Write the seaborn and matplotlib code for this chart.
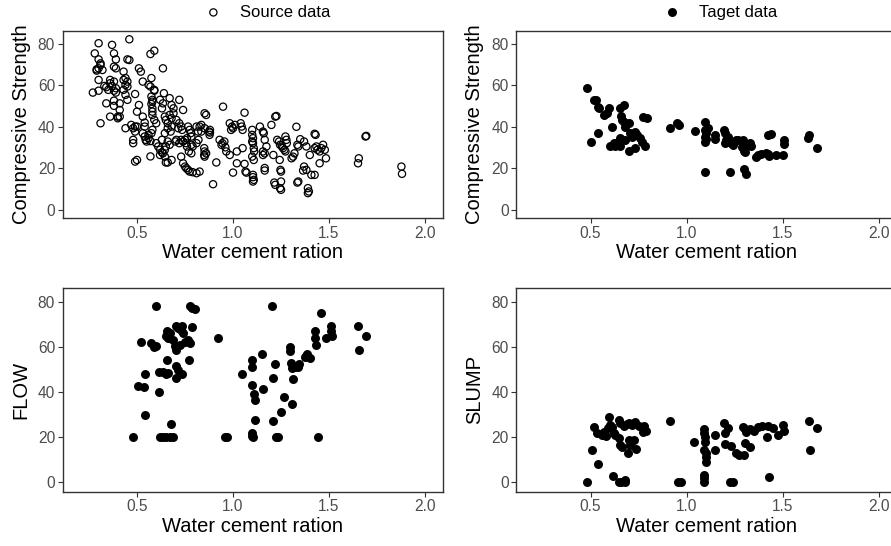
import matplotlib
matplotlib.use("Agg")
import matplotlib.pyplot as plt
import seaborn as sns
import pandas as pd

# ---------------- data ----------------
source_wc = [0.27,0.28,0.29,0.29,0.30,0.30,0.30,0.31,0.31,0.30,0.30,0.31,0.32,0.33,0.34,0.35,0.34,0.36,0.37,0.38,0.37,0.38,0.38,0.39,0.39,0.36,0.38,0.36,0.38,0.38,0.39,0.39,0.40,0.41,0.40,0.41,0.41,0.43,0.43,0.43,0.44,0.44,0.45,0.44,0.45,0.45,0.46,0.44,
             0.46,0.45,0.49,0.47,0.48,0.49,0.49,0.50,0.48,0.48,0.49,0.50,0.51,0.52,0.51,0.50,0.53,0.53,0.54,0.54,0.53,0.54,0.545,0.55,0.56,0.56,0.57,0.575,0.58,0.56,0.57,0.57,0.59,0.575,0.575,0.58,0.58,0.575,0.58,0.58,0.59,0.59,0.57,0.58,0.59,0.60,0.60,0.61,0.62,0.63,0.62,0.635,0.64,0.62,0.635,0.63,0.645,0.65,0.66,0.645,0.66,0.67,0.65,0.645,0.635,0.645,0.65,0.66,0.68,0.63,0.67,0.68,0.69,0.69,0.68,0.67,0.68,0.66,0.675,
             0.72,0.74,0.705,0.72,0.715,0.73,0.735,0.70,0.705,0.72,0.73,0.74,0.75,0.755,0.76,0.76,0.73,0.74,0.75,0.757,0.766,0.774,0.79,0.81,0.826,0.766,0.774,0.78,0.783,0.783,0.79,0.77,0.783,0.81,0.818,0.826,0.835,0.82,0.81,0.835,0.852,0.875,0.88,0.85,0.852,0.85,0.86,0.852,0.852,0.86,0.878,0.88,0.913,0.896,
             0.948,0.93,0.94,0.945,0.955,0.96,0.965,0.983,0.99,0.995,1.01,1.00,0.983,1.00,1.02,1.02,1.04,1.05,1.045,1.06,1.05,1.06,1.065,1.07,1.10,1.10,1.104,1.10,1.104,1.108,1.11,1.10,1.108,1.104,1.104,1.108,1.104,1.14,1.156,1.16,1.165,1.156,1.165,1.156,1.165,1.165,1.174,
             1.20,1.22,1.226,1.21,1.215,1.22,1.23,1.24,1.245,1.255,1.26,1.268,1.273,1.243,1.247,1.25,1.25,1.245,1.25,1.273,1.278,1.28,1.305,1.313,1.32,1.33,1.335,1.34,1.335,1.34,1.35,1.37,1.382,1.37,1.365,1.382,1.39,1.395,1.39,1.408,1.425,1.40,1.425,1.434,1.44,1.451,1.425,1.43,1.451,1.46,1.469,1.478,1.484,
             1.651,1.655,1.69,1.694,1.877,1.88]
source_cs = [56.4,75.3,67.6,67.0,68.1,80.2,72.4,69.7,70.5,62.5,57.3,41.6,67.3,59.6,59.0,57.7,51.2,60.9,59.6,57.3,79.4,75.3,68.9,68.1,72.4,62.5,61.7,44.8,52.5,50.0,58.5,56.4,44.8,44.8,44.0,48.0,51.2,57.7,66.5,62.5,63.4,60.1,59.3,55.3,52.9,72.4,72.1,39.2,
             82.1,61.7,55.7,40.8,39.2,40.0,37.6,40.0,33.6,32.0,23.1,23.9,68.1,66.5,50.4,47.2,61.7,44.8,41.9,40.0,36.8,35.2,33.6,32.8,36.0,34.4,33.0,36.8,38.4,60.1,59.3,75.0,76.6,63.4,54.5,52.9,52.0,50.9,48.8,47.2,57.7,57.3,25.6,45.6,43.2,41.6,32.0,30.4,28.8,27.6,26.3,68.1,56.1,52.9,51.2,48.8,44.8,43.2,41.6,36.8,32.8,31.2,30.4,28.8,27.1,25.5,22.7,22.7,23.9,33.6,53.7,50.4,48.8,46.4,44.0,45.6,40.0,39.2,37.6,
             52.9,48.0,43.2,41.6,39.2,40.0,38.4,32.8,33.6,32.0,33.6,32.8,33.6,32.0,34.4,30.4,25.5,22.3,20.7,19.9,19.1,18.3,18.0,17.5,18.3,40.0,38.4,36.8,35.2,31.2,30.4,28.0,27.1,40.0,37.6,40.0,37.6,33.6,32.0,40.8,39.2,37.6,38.4,29.6,28.0,26.3,27.1,25.5,46.4,45.6,36.0,37.1,22.7,12.2,
             49.6,33.6,31.2,32.0,32.8,30.0,28.0,41.6,38.4,40.0,40.8,39.2,26.3,17.8,28.0,22.3,41.6,38.4,40.0,46.7,29.6,22.0,18.3,17.8,38.4,36.0,34.4,32.8,32.0,29.6,28.0,25.5,23.9,16.7,15.6,14.3,13.5,40.0,37.6,36.8,33.6,28.0,27.1,26.3,20.0,18.8,30.4,
             40.8,44.8,45.1,26.3,13.0,11.9,33.6,32.8,31.2,30.4,29.6,28.8,28.0,23.9,19.1,18.3,13.5,10.3,9.5,35.2,33.6,32.0,24.7,25.5,27.1,39.9,31.2,30.4,13.0,13.5,33.9,32.8,30.4,20.7,18.8,19.1,10.3,8.7,7.9,16.7,16.7,26.3,29.6,30.4,28.8,28.0,36.5,36.0,22.3,29.6,31.2,28.8,24.7,
             22.3,24.7,35.2,35.5,20.7,17.2]

target_wc = [0.48,0.52,0.53,0.54,0.545,0.595,0.586,0.572,0.612,0.54,0.503,0.603,0.621,0.629,0.655,0.638,0.655,0.672,0.66,0.664,0.672,0.681,0.698,0.707,0.716,0.733,0.741,0.759,0.767,0.698,0.733,0.784,0.772,0.793,0.655,0.681,
             0.914,0.948,0.96,1.043,1.095,1.095,1.095,1.095,1.10,1.103,1.109,1.147,1.147,1.095,1.195,1.202,1.207,1.202,1.216,1.228,1.241,1.233,1.259,1.267,1.293,1.288,1.298,1.302,1.31,1.328,1.336,1.298,1.31,
             1.362,1.374,1.388,1.414,1.422,1.431,1.422,1.44,1.466,1.50,1.505,1.509,1.633,1.638,1.678]
target_cs = [58.8,53.0,53.0,49.6,49.0,48.8,46.4,45.6,40.0,36.8,32.8,30.4,32.0,30.4,30.4,32.0,49.0,50.4,45.1,43.2,42.4,40.0,41.6,36.8,35.2,37.6,36.0,34.4,32.8,28.0,29.6,30.4,44.6,44.0,34.4,33.6,
             39.2,41.6,40.8,37.9,42.4,38.4,35.2,32.8,34.0,37.1,39.2,36.0,33.9,18.2,38.4,36.8,33.6,32.0,35.2,18.2,30.9,32.0,33.6,33.3,33.6,30.0,28.4,27.6,31.2,32.0,30.4,19.4,17.2,
             25.5,26.3,26.8,27.1,26.8,25.9,35.9,36.3,26.5,26.5,33.6,31.6,34.4,36.0,29.6]

flow_wc = [0.479,0.597,0.774,0.788,0.800,0.656,0.653,0.661,0.670,0.705,0.714,0.731,0.740,0.736,0.688,0.696,0.705,0.722,0.748,0.766,0.774,0.788,0.523,0.575,0.587,0.601,0.505,0.535,0.543,0.615,0.615,0.635,0.653,0.661,0.656,0.705,0.714,0.736,0.701,0.769,0.542,0.675,0.618,0.635,0.653,0.670,0.688,
           0.922,0.957,0.970,1.049,1.101,1.099,1.099,1.108,1.113,1.116,1.101,1.101,1.104,1.153,1.156,1.205,1.208,1.219,1.208,1.222,1.234,1.248,1.266,1.295,1.299,1.306,1.304,1.309,1.313,1.321,1.339,1.344,1.373,1.385,1.399,1.382,1.425,1.425,1.431,1.460,1.483,1.512,1.512,1.517,1.443,1.651,1.656,1.691]
flow = [20.1,78.1,78.1,77.3,76.9,67.0,64.8,64.0,66.2,69.5,68.5,67.7,66.2,69.2,63.3,60.3,58.9,61.1,62.5,63.3,61.8,68.9,62.5,61.8,60.0,60.6,42.9,42.3,48.1,39.9,48.8,49.1,48.2,48.5,54.1,51.5,50.0,48.2,46.3,54.1,30.0,26.0,20.1,20.1,20.1,20.1,20.1,
        64.0,20.1,20.1,48.1,54.4,51.2,43.3,39.3,36.7,27.5,21.9,20.7,20.1,57.1,41.4,78.1,46.3,52.5,27.1,20.1,20.1,31.1,37.9,60.0,58.1,34.9,52.9,50.7,46.0,51.2,51.2,52.5,55.6,57.1,55.2,56.2,67.0,64.0,61.1,75.1,64.0,69.5,67.0,65.1,20.1,69.5,58.6,65.1]

slump_wc = [0.479,0.509,0.517,0.54,0.534,0.56,0.578,0.569,0.595,0.591,0.603,0.612,0.621,0.629,0.647,0.655,0.664,0.647,0.655,0.672,0.69,0.702,0.716,0.733,0.75,0.776,0.788,0.771,0.698,0.707,0.724,0.736,0.695,0.616,0.647,0.66,0.678,0.678,
            0.914,0.957,0.971,1.04,1.091,1.091,1.095,1.095,1.091,1.103,1.103,1.10,1.147,1.147,1.091,1.091,1.091,1.195,1.202,1.216,1.202,1.233,1.226,1.241,1.255,1.271,1.298,1.293,1.302,1.31,1.328,1.353,1.371,1.391,1.422,1.448,1.474,1.305,1.328,1.419,1.431,1.50,1.505,1.638,1.643,1.678]
slump = [0.0,14.4,24.7,8.0,21.8,21.0,20.6,22.5,29.2,24.0,25.5,24.7,22.1,21.0,19.6,16.6,15.9,27.7,26.5,25.0,25.9,26.5,25.5,27.0,25.0,25.0,23.0,22.5,18.8,16.6,18.8,14.7,12.9,2.8,0.0,0.0,1.0,0.0,
         27.4,0.0,0.0,18.0,23.6,21.8,20.0,18.1,14.4,13.2,9.2,11.4,21.0,14.4,3.3,1.8,0.0,26.5,21.8,24.0,17.0,16.1,0.0,0.0,13.2,12.1,12.1,24.4,23.6,22.5,23.6,23.0,24.7,25.0,25.0,24.0,21.0,17.6,15.9,20.0,2.2,25.5,23.0,27.4,14.4,24.0]

xlabel_text = "Water cement ration"
x_ticks = [0.5, 1.0, 1.5, 2.0]
y_ticks = [0, 20, 40, 60, 80]

# ---------------- style ----------------
sns.set_theme(style="white")
plt.rcParams['font.family'] = ['Liberation Sans', 'DejaVu Sans']
plt.rcParams['text.color'] = 'black'
plt.rcParams['axes.labelcolor'] = 'black'

W, H = 891, 546
fig = plt.figure(figsize=(W / 100, H / 100), dpi=100)

def px_axes(l, t, r, b):
    return fig.add_axes([l / W, 1 - b / H, (r - l) / W, (b - t) / H])

ax_src = px_axes(62.7, 31, 442.7, 218)
ax_tgt = px_axes(516.3, 31, 896.3, 218)
ax_flow = px_axes(62.7, 288.3, 442.7, 491.7)
ax_slump = px_axes(516.3, 288.3, 896.3, 491.7)

src_df = pd.DataFrame({"wc": source_wc, "cs": source_cs})
tgt_df = pd.DataFrame({"wc": target_wc, "cs": target_cs})
flow_df = pd.DataFrame({"wc": flow_wc, "flow": flow})
slump_df = pd.DataFrame({"wc": slump_wc, "slump": slump})

sns.scatterplot(data=src_df, x="wc", y="cs", ax=ax_src, marker="o", s=27,
                facecolor="none", edgecolor="black", linewidth=0.9, label="Source data")
sns.scatterplot(data=tgt_df, x="wc", y="cs", ax=ax_tgt, marker="o", s=42,
                color="black", linewidth=0, label="Taget data")
sns.scatterplot(data=flow_df, x="wc", y="flow", ax=ax_flow, marker="o", s=42,
                color="black", linewidth=0, legend=False)
sns.scatterplot(data=slump_df, x="wc", y="slump", ax=ax_slump, marker="o", s=42,
                color="black", linewidth=0, legend=False)

ylabels = {ax_src: "Compressive Strength", ax_tgt: "Compressive Strength",
           ax_flow: "FLOW", ax_slump: "SLUMP"}
for ax, yl in ylabels.items():
    ax.set_xlim(0.113, 2.092)
    ax.set_ylim(-4.1, 86.1)
    ax.set_xticks(x_ticks)
    ax.set_xticklabels([f"{v:.1f}" for v in x_ticks])
    ax.set_yticks(y_ticks)
    ax.set_xlabel(xlabel_text, fontsize=14.5, color="black", labelpad=2)
    ax.set_ylabel(yl, fontsize=14.5, color="black", labelpad=5)
    ax.tick_params(axis="both", which="both", direction="out", length=3.5, width=0.8,
                   color="#333333", labelcolor="#4D4D4D", labelsize=11.2, pad=2,
                   bottom=True, left=True)
    for sp in ax.spines.values():
        sp.set_visible(True)
        sp.set_color("#333333")
        sp.set_linewidth(1.0)
    ax.grid(False)
    if ax.get_legend() is not None:
        ax.get_legend().remove()

# legends placed above the top panels
h1, l1 = ax_src.get_legend_handles_labels()
fig.legend(h1, l1, loc="center left", bbox_to_anchor=(196.7 / W, 1 - 12.3 / H),
           frameon=False, borderpad=0, handlelength=1.0, handletextpad=1.1,
           fontsize=12, markerscale=1.0, labelcolor="black")
h2, l2 = ax_tgt.get_legend_handles_labels()
fig.legend(h2, l2, loc="center left", bbox_to_anchor=(655.7 / W, 1 - 12.3 / H),
           frameon=False, borderpad=0, handlelength=1.0, handletextpad=1.1,
           fontsize=12, markerscale=1.0, labelcolor="black")

fig.savefig("out.png", dpi=100)
